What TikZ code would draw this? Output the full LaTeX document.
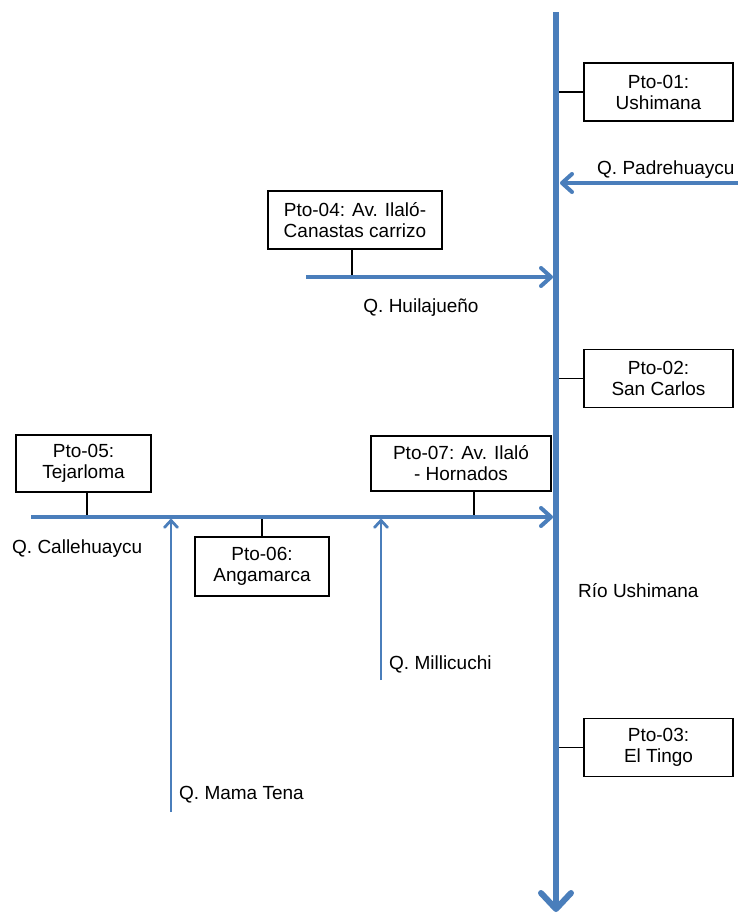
\documentclass[tikz,border=0pt]{standalone}
\usepackage{fontspec}
\setmainfont{Liberation Sans}
\usetikzlibrary{arrows.meta}
\definecolor{azulrio}{RGB}{74,126,187}
\tikzset{
  punto/.style={draw=black, line width=1.2pt, fill=white, align=center, inner sep=0pt, font=\fontsize{19}{21}\selectfont},
  etiqueta/.style={font=\fontsize{19}{21}\selectfont, inner sep=0pt},
  rio/.style={azulrio, line width=6pt, -{Straight Barb[length=16pt,width=30pt,round]}},
  quebrada/.style={azulrio, line width=4pt, -{Straight Barb[length=10pt,width=18pt,round]}},
  afluente/.style={azulrio, line width=2.8pt, -{Straight Barb[length=7pt,width=13pt,round]}},
  enlace/.style={black, line width=1.2pt}
}
\begin{document}
\begin{tikzpicture}[x=1pt,y=-1pt]
    \useasboundingbox (0,0) rectangle (738,914);

    % Points along the main river and the streams
    \coordinate (nacRio) at (556,12);
    \coordinate (desRio) at (556,912);
    \coordinate (nacPad) at (742,183);
    \coordinate (junPad) at (560,183);
    \coordinate (nacHui) at (306,277);
    \coordinate (junHui) at (553,277);
    \coordinate (nacCal) at (31,517);
    \coordinate (junCal) at (553,517);
    \coordinate (nacMam) at (171,812);
    \coordinate (junMam) at (171,519);
    \coordinate (nacMil) at (381,680);
    \coordinate (junMil) at (381,519);

    % Sampling points
    \node[punto, minimum width=149pt, minimum height=58pt] (p01) at (658.5,92) {Pto-01:\\Ushimana};
    \node[punto, minimum width=149pt, minimum height=58pt] (p02) at (658.5,378.5) {Pto-02:\\San Carlos};
    \node[punto, minimum width=149pt, minimum height=58pt] (p03) at (658.5,747.5) {Pto-03:\\El Tingo};
    \node[punto, minimum width=174pt, minimum height=58pt] (p04) at (355,220) {Pto-04: Av. Ilaló-\\Canastas carrizo};
    \node[punto, minimum width=135pt, minimum height=57pt] (p05) at (83.5,463.5) {Pto-05:\\Tejarloma};
    \node[punto, minimum width=134pt, minimum height=59pt] (p06) at (262,566.5) {Pto-06:\\Angamarca};
    \node[punto, minimum width=180pt, minimum height=55pt] (p07) at (461,463.5) {Pto-07: Av. Ilaló\\- Hornados};

    % Ties from the boxes to the water
    \coordinate (c04) at ([xshift=-3pt]p04.south);
    \coordinate (c05) at ([xshift=3.5pt]p05.south);
    \coordinate (c07) at ([xshift=13pt]p07.south);
    \draw[enlace] (p01.west) -- (p01.west -| nacRio);
    \draw[enlace] (p02.west) -- (p02.west -| nacRio);
    \draw[enlace] (p03.west) -- (p03.west -| nacRio);
    \draw[enlace] (c04) -- (c04 |- nacHui);
    \draw[enlace] (c05) -- (c05 |- nacCal);
    \draw[enlace] (p06.north) -- (p06.north |- nacCal);
    \draw[enlace] (c07) -- (c07 |- nacCal);

    % Main river and streams
    \draw[rio] (nacRio) -- (desRio);
    \draw[quebrada] (nacPad) -- (junPad);
    \draw[quebrada] (nacHui) -- (junHui);
    \draw[quebrada] (nacCal) -- (junCal);
    \draw[afluente] (nacMam) -- (junMam);
    \draw[afluente] (nacMil) -- (junMil);

    % Names of the streams
    \node[etiqueta, anchor=base west] (lPad) at (597,174) {Q. Padrehuaycu};
    \node[etiqueta, anchor=base] (lHui) at (421,312) {Q. Huilajueño};
    \node[etiqueta, anchor=base west] (lCal) at (12,553) {Q. Callehuaycu};
    \node[etiqueta, anchor=base west] (lRio) at (578,597) {Río Ushimana};
    \node[etiqueta, anchor=base west] (lMil) at (389,669) {Q. Millicuchi};
    \node[etiqueta, anchor=base west] (lMam) at (179,799) {Q. Mama Tena};
\end{tikzpicture}
\end{document}
